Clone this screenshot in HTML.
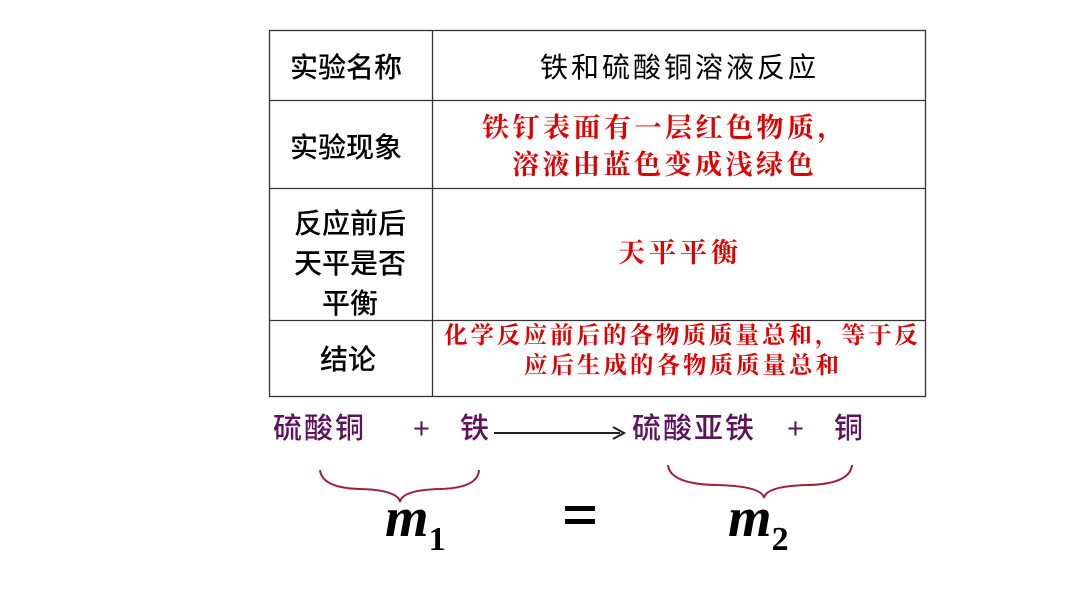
<!DOCTYPE html>
<html><head><meta charset="utf-8"><style>
body{margin:0;width:1066px;height:600px;background:#fff;position:relative;overflow:hidden;font-family:"Liberation Sans","Noto Sans CJK SC",sans-serif}
.t{position:absolute;white-space:nowrap;line-height:1}
.k{font-size:28px;color:#000;font-weight:500}
.r{font-family:"Liberation Serif","Noto Serif CJK SC",serif;font-weight:bold;color:#e00000}
.p{color:#5e125e;font-size:29px;font-weight:500}
.m{font-family:"Liberation Serif",serif;font-weight:bold;font-style:italic;font-size:56px}
</style></head><body>
<svg width="1066" height="600" style="position:absolute;left:0;top:0">
<g stroke="#333" stroke-width="1.3" fill="none">
<rect x="269.5" y="30.5" width="656" height="366"/>
<line x1="432.5" y1="30" x2="432.5" y2="396"/>
<line x1="269" y1="100.5" x2="925" y2="100.5"/>
<line x1="269" y1="188.5" x2="925" y2="188.5"/>
<line x1="269" y1="320.5" x2="925" y2="320.5"/>
</g>
<line x1="494" y1="433" x2="620" y2="433" stroke="#222" stroke-width="2"/>
<path d="M613 427 L624 433 L613 439" stroke="#222" stroke-width="2" fill="none"/>
<g stroke="#a0203a" stroke-width="2" fill="none">
<path d="M320 470 Q322 488 360 489 Q398 490 400 502 Q402 490 440 489 Q478 488 479 470"/>
<path d="M668 465 Q670 484 716 485 Q762 486 764 498 Q766 486 808 485 Q850 484 852 465"/>
</g>
<rect x="565" y="506" width="30" height="5" fill="#000"/>
<rect x="565" y="519" width="30" height="5" fill="#000"/>
</svg>
<div class="t k" style="left:290px;top:54px">实验名称</div>
<div class="t k" style="left:540px;top:54px;letter-spacing:3px;font-weight:400">铁和硫酸铜溶液反应</div>
<div class="t k" style="left:290px;top:134px">实验现象</div>
<div class="t k" style="left:290px;top:204px;line-height:40px;text-align:center;width:120px;white-space:normal">反应前后<br>天平是否<br>平衡</div>
<div class="t k" style="left:320px;top:346px">结论</div>
<div class="t r" style="left:482px;top:115px;font-size:27px;letter-spacing:3.5px">铁钉表面有一层红色物质，</div>
<div class="t r" style="left:512px;top:152px;font-size:27px;letter-spacing:3.5px">溶液由蓝色变成浅绿色</div>
<div class="t r" style="left:618px;top:240px;font-size:27px;letter-spacing:4px">天平平衡</div>
<div class="t r" style="left:444px;top:325px;font-size:23.5px;letter-spacing:3px">化学反应前后的各物质质量总和，等于反</div>
<div class="t r" style="left:524px;top:355px;font-size:23.5px;letter-spacing:3px">应后生成的各物质质量总和</div>
<div class="t p" style="left:273px;top:415px;letter-spacing:2px">硫酸铜</div>
<div class="t p" style="left:413px;top:415px">+</div>
<div class="t p" style="left:460px;top:415px">铁</div>
<div class="t p" style="left:632px;top:415px;letter-spacing:2px">硫酸亚铁</div>
<div class="t p" style="left:787px;top:415px">+</div>
<div class="t p" style="left:834px;top:415px">铜</div>
<div class="t m" style="left:385px;top:490px">m<span style="font-size:34px;font-style:normal;position:relative;top:14px">1</span></div>
<div class="t m" style="left:728px;top:490px">m<span style="font-size:34px;font-style:normal;position:relative;top:14px">2</span></div>
</body></html>
